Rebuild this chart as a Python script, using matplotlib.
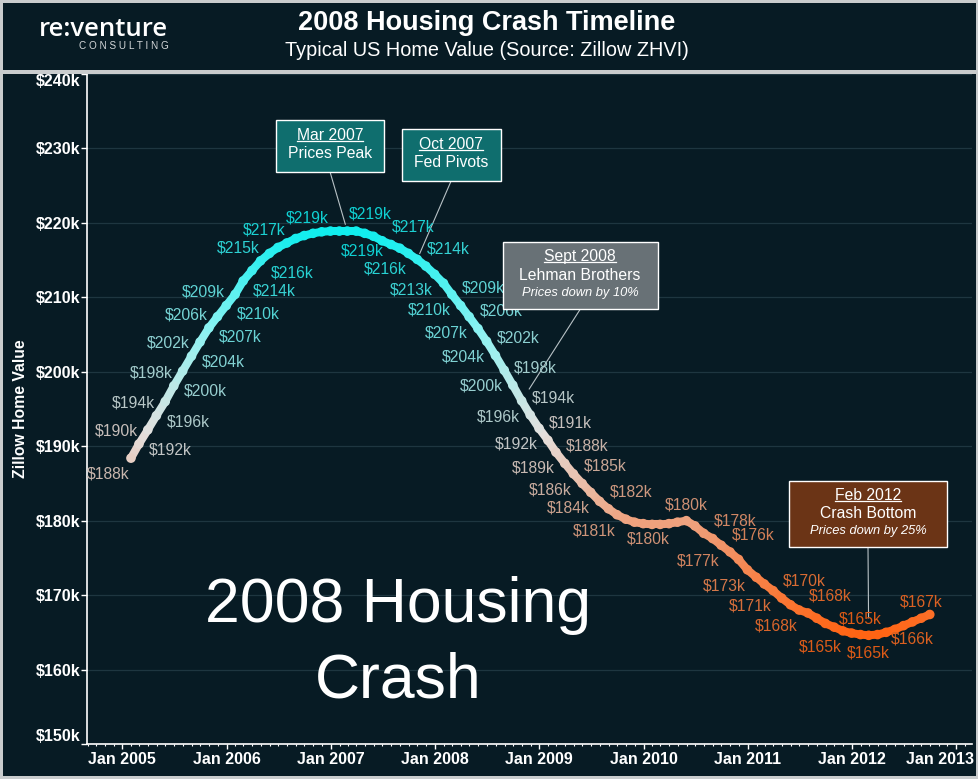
import numpy as np
import pandas as pd
import matplotlib
matplotlib.use("Agg")
import matplotlib.pyplot as plt
import matplotlib.dates as mdates
from matplotlib.collections import LineCollection
from matplotlib.colors import LinearSegmentedColormap, Normalize, to_rgb
from matplotlib.patches import Rectangle
from matplotlib.lines import Line2D
from matplotlib.ticker import FuncFormatter, MultipleLocator
from matplotlib.transforms import ScaledTranslation

plt.rcParams['font.family'] = ['Liberation Sans', 'DejaVu Sans']

# ------------------------------------------------------------------
# data (Zillow ZHVI, typical US home value, $k, month-end dates)
# ------------------------------------------------------------------
months = pd.date_range("2005-01-31", "2012-09-30", freq="ME")
home_value_k = [
    188.4, 190.3, 192.2, 194.1, 196.0, 198.1, 200.1, 202.1, 204.0, 205.9,
    207.4, 208.9, 210.4, 212.2, 213.6, 214.9, 215.9, 216.7, 217.3, 217.9,
    218.3, 218.6, 218.8, 218.9, 218.9, 218.9, 218.9, 218.6, 218.2, 217.6,
    217.1, 216.6, 215.9, 215.1, 214.2, 213.1, 211.9, 210.4, 208.9, 207.4,
    205.8, 204.1, 202.2, 200.2, 198.2, 196.1, 194.2, 192.4, 190.8, 189.2,
    187.7, 186.3, 185.0, 183.8, 182.6, 181.6, 180.8, 180.2, 179.8, 179.6,
    179.5, 179.5, 179.6, 179.8, 180.0, 179.3, 178.3, 177.6, 176.7, 175.8,
    174.8, 173.4, 172.4, 171.5, 170.6, 169.6, 168.7, 168.0, 167.6, 166.9,
    166.2, 165.7, 165.2, 164.9, 164.7, 164.6, 164.7, 165.0, 165.4, 165.9,
    166.4, 166.9, 167.4,
]

# months that carry a value label, and where the label sits
label_months = [0, 1, 2, 3, 4, 5, 6, 7, 8, 9, 10, 11, 12, 14, 15, 16, 18,
                23, 24, 25, 30, 32, 34, 35, 37, 38, 39, 40, 41, 42, 43, 44,
                45, 46, 47, 48, 49, 50, 51, 52, 53, 55, 56, 57, 64, 67, 68,
                69, 71, 74, 75, 77, 78, 82, 84, 85, 90, 91]
label_sides = ['ll', 'ul', 'lr', 'ul', 'lr', 'ul', 'lr', 'ul', 'lr', 'ul',
               'lr', 'ul', 'lr', 'lr', 'ul', 'lr', 'ul',
               'ul', 'lr', 'ur', 'ur', 'll', 'ur', 'll', 'll', 'ur', 'll',
               'ur', 'll', 'ur', 'll', 'ur', 'll', 'ur', 'll', 'ur', 'll',
               'ur', 'll', 'ur', 'll', 'ur', 'll', 'lr', 'u', 'ur', 'll',
               'ur', 'll', 'll', 'ur', 'll', 'ur', 'll', 'u', 'd', 'd', 'u']

event_dates = ["Mar 2007", "Oct 2007", "Sept 2008", "Feb 2012"]
event_titles = ["Prices Peak", "Fed Pivots", "Lehman Brothers", "Crash Bottom"]
event_notes = ["", "", "Prices down by 10%", "Prices down by 25%"]
event_targets = ["2007-02-28", "2007-10-31", "2008-10-31", "2012-02-29"]

# ------------------------------------------------------------------
# style
# ------------------------------------------------------------------
BG = '#071b24'
FRAME = '#c9cccd'
GRID = '#1e3640'
box_colors = ['#0f6e6e', '#0f6e6e', '#687176', '#6b3416']
box_x0 = [0.213, 0.3554, 0.4695, 0.7935]
box_x1 = [0.3357, 0.4673, 0.6447, 0.9714]
box_y0 = [0.854, 0.8407, 0.6488, 0.2936]
box_y1 = [0.931, 0.9175, 0.7488, 0.393]
event_gaps = [5, 4.5, 10, 12.5]

cmap = LinearSegmentedColormap.from_list(
    'crash', ['#ff6414', '#f09a72', '#e4e0de', '#8ef2f2', '#10eeee'])

W, H = 979, 779
fig = plt.figure(figsize=(W / 100, H / 100), dpi=100, facecolor=FRAME)
fig.add_artist(Rectangle((3 / W, 3 / H), 973 / W, 773 / H,
                         transform=fig.transFigure, fc=BG, ec='none', zorder=0))
fig.add_artist(Rectangle((0, (H - 73.5) / H), 1, 3.5 / H,
                         transform=fig.transFigure, fc=FRAME, ec='none', zorder=1))

ax = fig.add_axes([87.3 / W, 35 / H, 884.7 / W, 670 / H])
ax.set_facecolor(BG)

x = mdates.date2num(months)
v = np.array(home_value_k)
norm = Normalize(v.min(), v.max())

pts = np.column_stack([x, v])
segs = np.stack([pts[:-1], pts[1:]], axis=1)
lc = LineCollection(segs, colors=cmap(norm((v[:-1] + v[1:]) / 2)),
                    linewidths=5.8, capstyle='round', joinstyle='round', zorder=3)
ax.add_collection(lc)
ax.scatter(x, v, s=48, c=cmap(norm(v)), edgecolors='none', zorder=4)

# value labels
offsets = {'ul': (-1, 4, 'right', 'bottom'), 'lr': (1, -9, 'left', 'top'),
           'ur': (1, 7, 'left', 'bottom'), 'll': (-1, -6, 'right', 'top'),
           'u': (0, 6, 'center', 'bottom'), 'd': (0, -7, 'center', 'top')}
bg_rgb = np.array(to_rgb(BG))
for m, side in zip(label_months, label_sides):
    dx, dy, ha, va = offsets[side]
    col = np.array(cmap(norm(v[m]))[:3]) * 0.86 + bg_rgb * 0.14
    ax.annotate(f"${round(v[m])}k", (x[m], v[m]), xytext=(dx, dy),
                textcoords='offset points', ha=ha, va=va, fontsize=11.3,
                color=col, zorder=6)

# axes
ax.set_xlim(mdates.date2num(pd.Timestamp("2004-08-31")),
            mdates.date2num(pd.Timestamp("2013-02-25")))
ax.set_ylim(150, 240)
ax.yaxis.set_major_locator(MultipleLocator(10))
ax.yaxis.set_major_formatter(FuncFormatter(lambda val, pos: f"${val:.0f}k"))
ax.xaxis.set_major_locator(mdates.YearLocator())
ax.xaxis.set_minor_locator(mdates.MonthLocator())
ax.xaxis.set_major_formatter(mdates.DateFormatter("Jan %Y"))
ax.grid(axis='y', color=GRID, lw=0.9, zorder=1)
ax.set_axisbelow(True)
for s in ['top', 'right']:
    ax.spines[s].set_visible(False)
for s in ['left', 'bottom']:
    ax.spines[s].set_color('white')
    ax.spines[s].set_linewidth(1.2)
ax.tick_params(axis='x', which='major', length=3.5, width=1, color='white',
               labelcolor='white', labelsize=11.5, pad=2)
ax.tick_params(axis='x', which='minor', length=1.5, width=0.8, color='white')
ax.tick_params(axis='y', length=4, width=1, color='white', labelcolor='white',
               labelsize=11.5, pad=1)
ax.set_ylabel("Zillow Home Value", color='white', fontsize=11.3, fontweight='bold')
ax.yaxis.set_label_coords(-0.067, 0.5)

# big caption
ax.text(0.351, 0.182, "2008 Housing", transform=ax.transAxes, ha='center',
        va='baseline', fontsize=45, color='white', zorder=2)
ax.text(0.351, 0.070, "Crash", transform=ax.transAxes, ha='center',
        va='baseline', fontsize=45, color='white', zorder=2)

# event boxes
underlined = []
for i in range(len(event_dates)):
    x0, x1, y0, y1 = box_x0[i], box_x1[i], box_y0[i], box_y1[i]
    ax.add_patch(Rectangle((x0, y0), x1 - x0, y1 - y0, transform=ax.transAxes,
                           fc=box_colors[i], ec='white', lw=1, zorder=7,
                           clip_on=False))
    cx = (x0 + x1) / 2
    h = y1 - y0
    if event_notes[i]:
        rows = [0.215, 0.50, 0.75]
    else:
        rows = [0.30, 0.64]
    t = ax.text(cx, y1 - rows[0] * h, event_dates[i], transform=ax.transAxes,
                ha='center', va='center', fontsize=11.3, color='white', zorder=8)
    underlined.append(t)
    ax.text(cx, y1 - rows[1] * h, event_titles[i], transform=ax.transAxes,
            ha='center', va='center', fontsize=11.3, color='white', zorder=8)
    if event_notes[i]:
        ax.text(cx, y1 - rows[2] * h, event_notes[i], transform=ax.transAxes,
                ha='center', va='center', fontsize=9.3, style='italic',
                color='white', zorder=8)
    k = months.get_loc(pd.Timestamp(event_targets[i]))
    ax.annotate('', xy=(x[k], v[k]), xytext=(cx, y0), textcoords='axes fraction',
                arrowprops=dict(arrowstyle='-', color='#b8c2c6', lw=0.8,
                                shrinkA=0, shrinkB=event_gaps[i]), zorder=5)

# header
fig.text(0.4975, 1 - 23 / H, "2008 Housing Crash Timeline", ha='center',
         va='center', fontsize=19.5, fontweight='bold', color='white')
fig.text(0.4975, 1 - 50 / H, "Typical US Home Value (Source: Zillow ZHVI)",
         ha='center', va='center', fontsize=14.3, color='white')
fig.text(39 / W, 1 - 36 / H, "re:venture", ha='left', va='baseline',
         fontsize=18.5, fontweight='semibold', family='Open Sans', color='white')
fig.text(169 / W, 1 - 49 / H, "C O N S U L T I N G", ha='right',
         va='baseline', fontsize=7.2, color='#d4d8da')

# tick label tweaks: bold, keep the edge labels inside the frame
fig.canvas.draw()
for lbl in ax.get_xticklabels() + ax.get_yticklabels():
    lbl.set_fontweight('bold')
for tk in ax.yaxis.get_major_ticks():
    if tk.label1.get_text() == "$150k":
        tk.label1.set_va('bottom')
    elif tk.label1.get_text() == "$240k":
        tk.label1.set_va('top')
for tk in ax.xaxis.get_major_ticks():
    if tk.label1.get_text() == "Jan 2013":
        tk.label1.set_ha('right')
        tk.label1.set_transform(tk.label1.get_transform()
                                + ScaledTranslation(0.175, 0, fig.dpi_scale_trans))

# underline the event dates
fig.canvas.draw()
for t in underlined:
    bb = t.get_window_extent().transformed(fig.transFigure.inverted())
    yy = bb.y0 + 0.12 * bb.height
    fig.add_artist(Line2D([bb.x0, bb.x1], [yy, yy], color='white', lw=0.9,
                          transform=fig.transFigure, zorder=10))

fig.savefig("out.png", dpi=100, facecolor=fig.get_facecolor())
